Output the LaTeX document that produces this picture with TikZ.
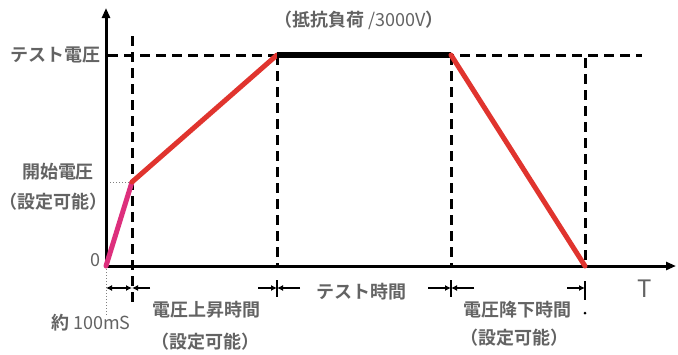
\documentclass[tikz,border=0pt]{standalone}
\usepackage{fontspec}
\setmainfont{Noto Sans CJK JP}[BoldFont={Noto Sans CJK JP Bold}]
\usetikzlibrary{arrows.meta}
\definecolor{txt}{HTML}{636363}
\definecolor{rampred}{HTML}{E0342E}
\definecolor{rampmag}{HTML}{DD2F7C}
\begin{document}
\begin{tikzpicture}[x=1pt,y=-1pt,
  lbl/.style={text=txt, font=\fontsize{18}{20}\selectfont\bfseries, inner sep=0pt},
  axisline/.style={line width=3pt, -{Triangle[length=10pt,width=8pt]}},
  dsh/.style={line width=3pt, dash pattern=on 10pt off 6pt},
  dimarrow/.style={line width=1.2pt, -{Latex[length=6pt,width=6pt]}},
  dimboth/.style={line width=1.2pt, {Latex[length=6pt,width=6pt]}-{Latex[length=6pt,width=6pt]}},
  tick/.style={line width=2.6pt},
  ramp/.style={line width=5pt, line cap=round},
  guide/.style={line width=1pt, gray, dotted},
]
\useasboundingbox (0,0) rectangle (678,354);
% key coordinates
\coordinate (O) at (106,266);
\coordinate (Ytop) at (106,8);
\coordinate (Xend) at (676,266);
\coordinate (S) at (132,182);
\coordinate (A) at (277,55);
\coordinate (B) at (451,55);
\coordinate (E) at (585,266);
\coordinate (Ylev) at (108,55);
\coordinate (Dend) at (642,55);
\coordinate (SyL) at (107,182);
% dashed guides
\draw[dsh] (Ylev) -- (Dend);
\draw[dsh] (132,36) -- (132,302);
\draw[dsh] (A) -- (277,268);
\draw[dsh] (B) -- (451,268);
\draw[dsh] (585,58) -- (E);
\draw[guide] (SyL) -- (S);
\draw[guide] (O) -- (106,316);
% axes
\draw[axisline] (O) -- (Ytop);
\draw[axisline] (O) -- (Xend);
% curve
\draw[ramp, rampmag] (O) -- (S);
\draw[ramp, rampred] (S) -- (A);
\draw[line width=5.5pt] (A) -- (B);
\draw[ramp, rampred] (B) -- (E);
% ticks under axis
\draw[tick] (277,280) -- (277,297);
\draw[tick] (451,280) -- (451,297);
\draw[tick] (585,281) -- (585,300);
\fill (585,313) circle (1.5);
% dimension arrows
\coordinate (d0) at (106,288);
\coordinate (d1) at (132,288);
\draw[dimboth] (d0) -- (d1);
\draw[dimarrow] (150,288) -- (d1);
\draw[dimarrow] (258,288) -- (277,288);
\draw[dimarrow] (300,288) -- (277,288);
\draw[dimarrow] (428,288) -- (451,288);
\draw[dimarrow] (474,288) -- (451,288);
\draw[dimarrow] (567,288) -- (585,288);
% labels
\node[lbl, anchor=east] (ltv) at (101,55) {テスト電圧};
\node[lbl] (lsv) at (58,172) {開始電圧};
\node[lbl] (lsv2) at (53,202) {（設定可能）};
\node[lbl, font=\fontsize{18}{20}\selectfont] (lzero) at (95,260) {0};
\node[lbl] (lload) at (359,20) {（抵抗負荷 {\mdseries /3000V}）};
\node[lbl, font=\fontsize{24}{26}\selectfont] (lT) at (645,289) {T};
\node[lbl] (l100) at (91,323) {約 {\mdseries 100mS}};
\node[lbl] (lrise) at (206,310) {電圧上昇時間};
\node[lbl] (lrise2) at (205,342) {（設定可能）};
\node[lbl] (ltest) at (361,292) {テスト時間};
\node[lbl] (lfall) at (517,310) {電圧降下時間};
\node[lbl] (lfall2) at (514,338) {（設定可能）};
\end{tikzpicture}
\end{document}
